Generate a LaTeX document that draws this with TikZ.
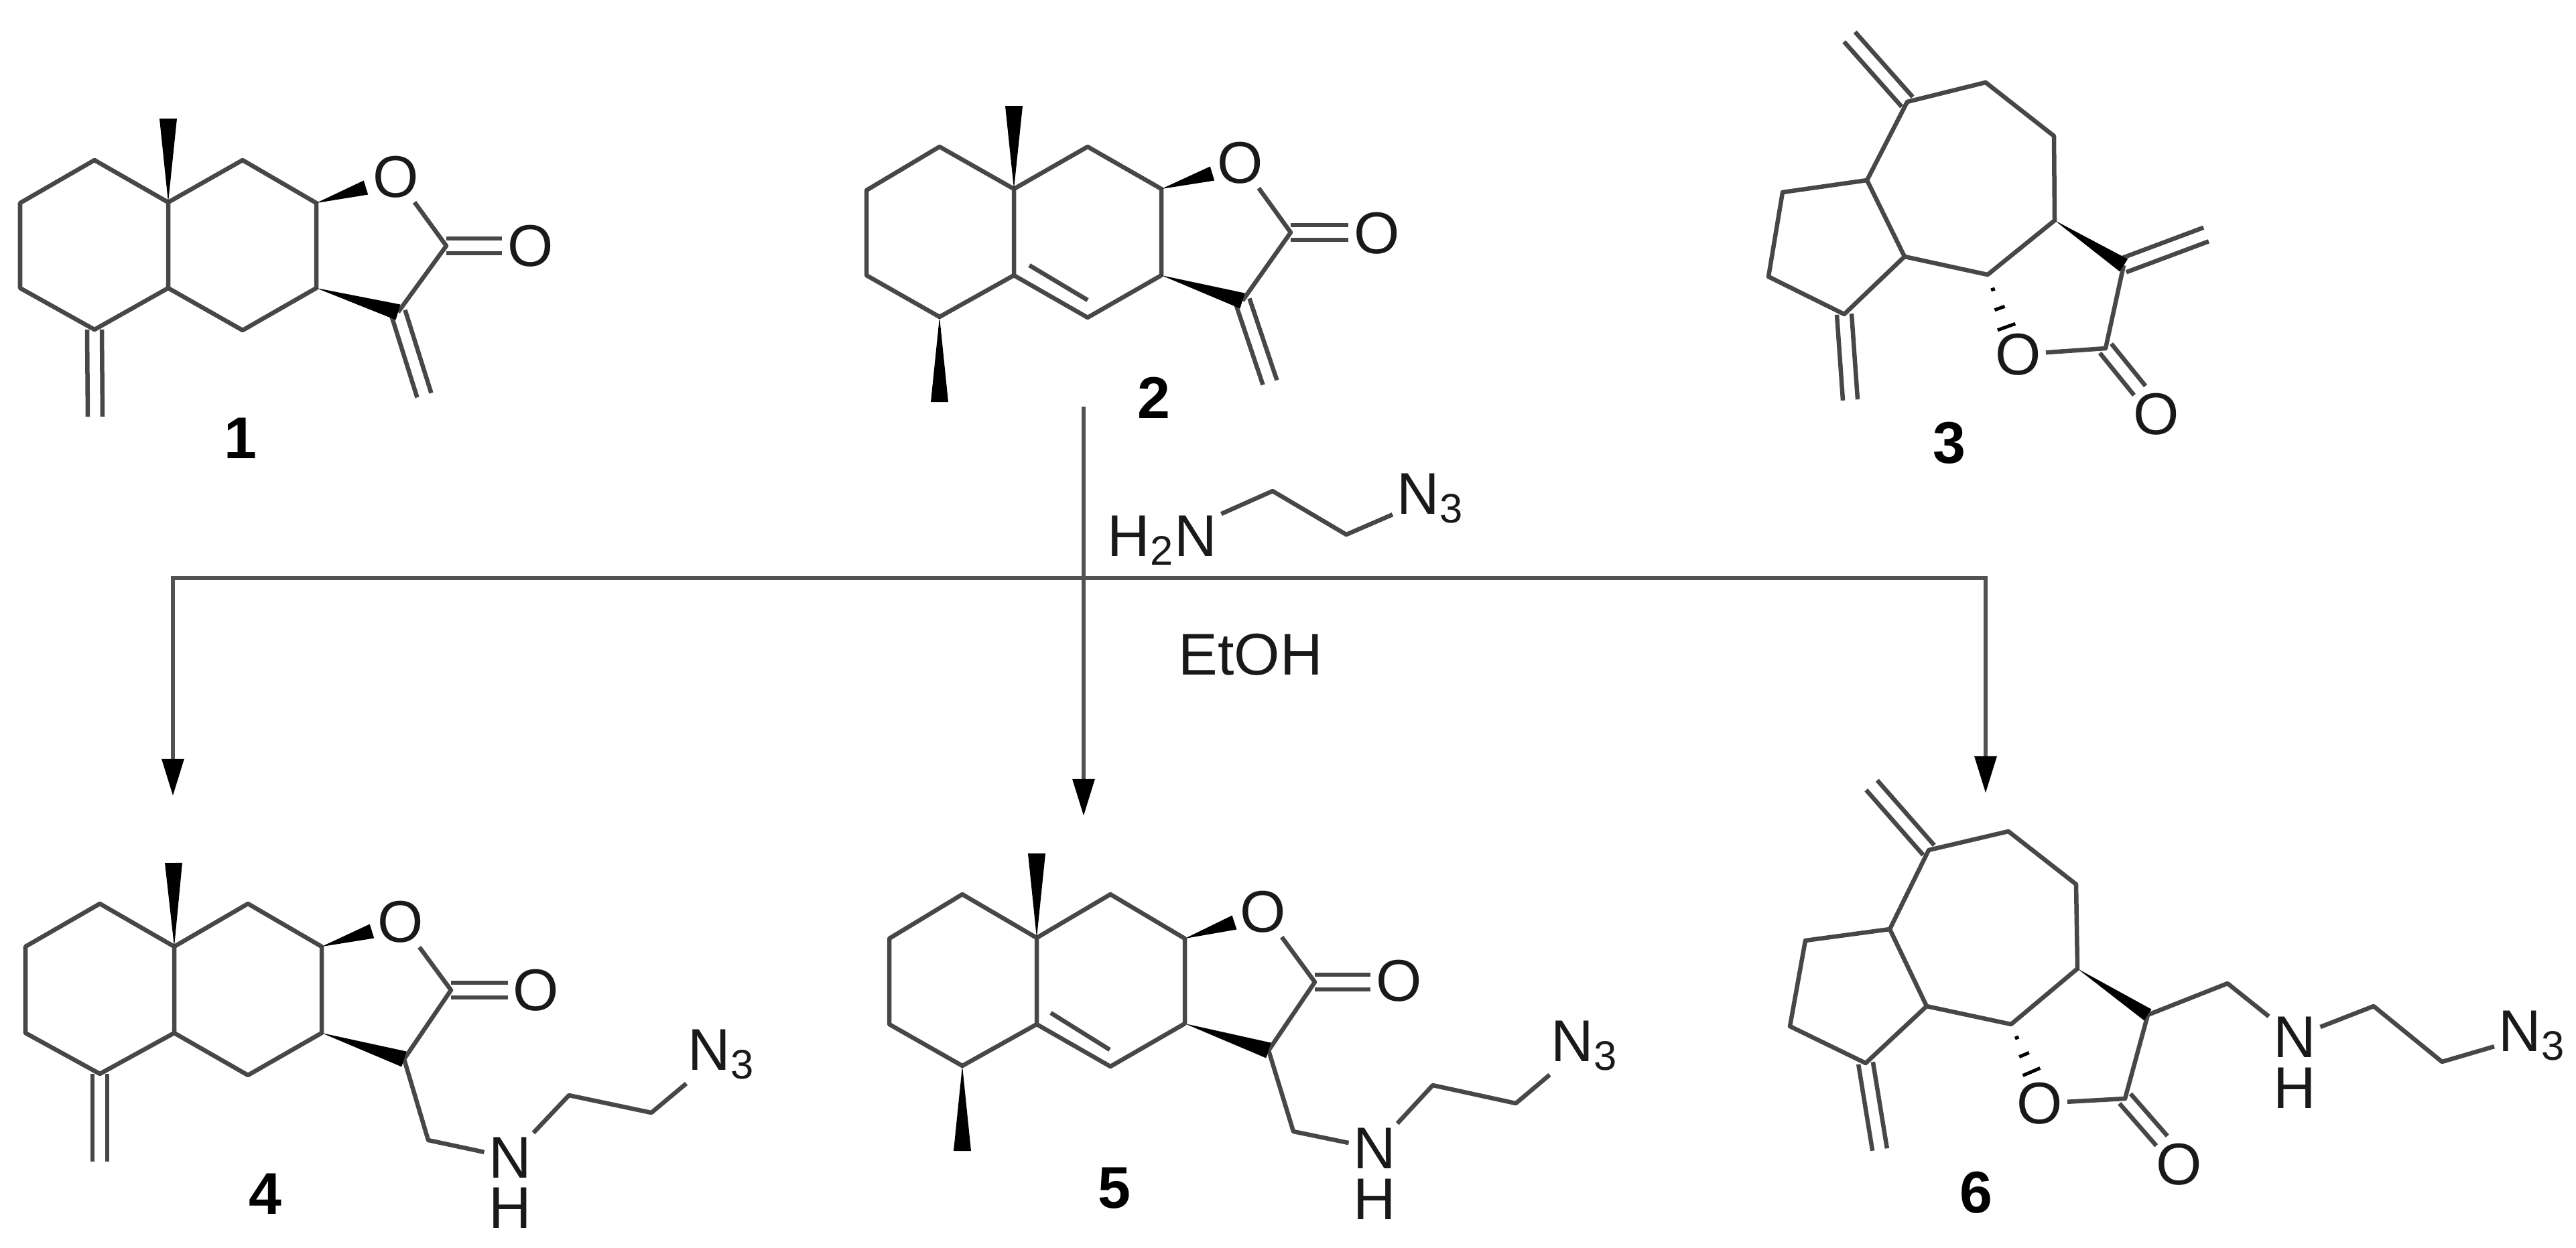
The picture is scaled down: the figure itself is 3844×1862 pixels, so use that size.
\documentclass[tikz,border=0pt]{standalone}
\usepackage{fontspec}
\setmainfont{Liberation Sans}
\usetikzlibrary{calc,arrows.meta}

\tikzset{
    bond/.style={draw=black!72, line width=.065cm, line join=round},
    rxn/.style={draw=black!68, line width=.06cm, line cap=rect},
    rxn_head/.style={-{Triangle[length=.55cm,width=.32cm,black]}},
    atom/.style={font=\fontsize{25}{25}\selectfont, inner sep=.06cm, text=black!90},
    atom_h/.style={atom, inner sep=0pt},
    compound/.style={font=\fontsize{25}{25}\selectfont\bfseries, inner sep=0pt}
}

\newcommand{\doublebond}[2]{
    \draw [bond] ($(#1)!.11cm!90:(#2)$) -- ($(#2)!.11cm!-90:(#1)$);
    \draw [bond] ($(#1)!.11cm!-90:(#2)$) -- ($(#2)!.11cm!90:(#1)$);
}
\newcommand{\wedgebond}[3]{
    \fill [black] (#1) -- ($(#2)!#3!90:(#1)$) -- ($(#2)!#3!-90:(#1)$) -- cycle;
}
\newcommand{\hashbond}[2]{
    \draw [black, line width=.05cm] ($(#1)!.22!(#2)!.03cm!90:(#2)$) -- ($(#1)!.22!(#2)!.03cm!-90:(#2)$);
    \draw [black, line width=.05cm] ($(#1)!.5!(#2)!.08cm!90:(#2)$) -- ($(#1)!.5!(#2)!.08cm!-90:(#2)$);
    \draw [black, line width=.05cm] ($(#1)!.78!(#2)!.14cm!90:(#2)$) -- ($(#1)!.78!(#2)!.14cm!-90:(#2)$);
}

\begin{document}
\begin{tikzpicture}[x=.01cm, y=-.01cm]
        \useasboundingbox (0,0) rectangle (3844,1862);

        % Compound 1
        \coordinate (a1) at (141,239);
        \coordinate (b1) at (30,303);
        \coordinate (c1) at (30,430);
        \coordinate (d1) at (141,492);
        \coordinate (e1) at (251,430);
        \coordinate (f1) at (251,302);
        \coordinate (g1) at (362,239);
        \coordinate (h1) at (472,303);
        \coordinate (i1) at (472,430);
        \coordinate (j1) at (362,493);
        \coordinate (k1) at (666,367);
        \coordinate (l1) at (594,466);
        \coordinate (methyl1) at (251,177);
        \coordinate (wedge_o1) at (546,280);
        \coordinate (exo_a1) at (142,622);
        \coordinate (exo_b1) at (633,590);
        \coordinate (co_end1) at (749,367);
        \node (o_ring1) [atom] at (591,264) {O};
        \node (o_carb1) [atom] at (792,367) {O};
        \node (num1) [compound] at (359,654) {1};
        \draw [bond] (f1) -- (a1) -- (b1) -- (c1) -- (d1) -- (e1) -- cycle;
        \draw [bond] (f1) -- (g1) -- (h1) -- (i1) -- (j1) -- (e1);
        \draw [bond] (o_ring1) -- (k1) -- (l1);
        \doublebond{k1}{co_end1}
        \doublebond{d1}{exo_a1}
        \doublebond{l1}{exo_b1}
        \wedgebond{f1}{methyl1}{.13cm}
        \wedgebond{h1}{wedge_o1}{.11cm}
        \wedgebond{i1}{l1}{.12cm}

        % Compound 2
        \coordinate (a2) at (1402,219);
        \coordinate (b2) at (1293,284);
        \coordinate (c2) at (1293,411);
        \coordinate (d2) at (1402,473);
        \coordinate (e2) at (1513,411);
        \coordinate (f2) at (1513,282);
        \coordinate (g2) at (1623,219);
        \coordinate (h2) at (1733,282);
        \coordinate (i2) at (1733,411);
        \coordinate (j2) at (1623,474);
        \coordinate (k2) at (1926,347);
        \coordinate (l2) at (1854,449);
        \coordinate (methyl2) at (1513,158);
        \coordinate (methyl2b) at (1402,600);
        \coordinate (wedge_o2) at (1809,259);
        \coordinate (exo_b2) at (1895,571);
        \coordinate (co_end2) at (2012,347);
        \coordinate (inner_a2) at (1536,396);
        \coordinate (inner_b2) at (1623,448);
        \node (o_ring2) [atom] at (1851,243) {O};
        \node (o_carb2) [atom] at (2055,348) {O};
        \node (num2) [compound] at (1722,594) {2};
        \draw [bond] (f2) -- (a2) -- (b2) -- (c2) -- (d2) -- (e2) -- cycle;
        \draw [bond] (f2) -- (g2) -- (h2) -- (i2) -- (j2) -- (e2);
        \draw [bond] (inner_a2) -- (inner_b2);
        \draw [bond] (o_ring2) -- (k2) -- (l2);
        \doublebond{k2}{co_end2}
        \doublebond{l2}{exo_b2}
        \wedgebond{f2}{methyl2}{.13cm}
        \wedgebond{d2}{methyl2b}{.13cm}
        \wedgebond{h2}{wedge_o2}{.11cm}
        \wedgebond{i2}{l2}{.12cm}

        % Compound 3
        \coordinate (a3) at (2846,152);
        \coordinate (b3) at (2963,123);
        \coordinate (c3) at (3065,203);
        \coordinate (d3) at (3066,329);
        \coordinate (e3) at (2966,410);
        \coordinate (f3) at (2842,383);
        \coordinate (g3) at (2786,269);
        \coordinate (h3) at (2660,287);
        \coordinate (i3) at (2639,413);
        \coordinate (j3) at (2752,469);
        \coordinate (r3) at (3169,396);
        \coordinate (k3) at (3142,520);
        \coordinate (exo_a3) at (2760,55);
        \coordinate (exo_b3) at (2761,597);
        \coordinate (exo_c3) at (3292,350);
        \coordinate (co_end3) at (3193,583);
        \coordinate (hash_o3) at (3002,510);
        \node (o_ring3) [atom] at (3012,529) {O};
        \node (o_carb3) [atom] at (3218,618) {O};
        \node (num3) [compound] at (2909,661) {3};
        \draw [bond] (a3) -- (b3) -- (c3) -- (d3) -- (e3) -- (f3) -- (g3) -- cycle;
        \draw [bond] (g3) -- (h3) -- (i3) -- (j3) -- (f3);
        \draw [bond] (r3) -- (k3) -- (o_ring3);
        \doublebond{a3}{exo_a3}
        \doublebond{j3}{exo_b3}
        \doublebond{r3}{exo_c3}
        \doublebond{k3}{co_end3}
        \wedgebond{d3}{r3}{.11cm}
        \hashbond{e3}{hash_o3}

        % Compound 4
        \coordinate (a4) at (149,1349);
        \coordinate (b4) at (38,1413);
        \coordinate (c4) at (38,1542);
        \coordinate (d4) at (149,1603);
        \coordinate (e4) at (260,1542);
        \coordinate (f4) at (260,1413);
        \coordinate (g4) at (370,1349);
        \coordinate (h4) at (480,1413);
        \coordinate (i4) at (480,1542);
        \coordinate (j4) at (370,1605);
        \coordinate (k4) at (673,1478);
        \coordinate (l4) at (603,1581);
        \coordinate (methyl4) at (259,1288);
        \coordinate (wedge_o4) at (555,1390);
        \coordinate (exo_a4) at (149,1734);
        \coordinate (co_end4) at (758,1478);
        \coordinate (chain_a4) at (639,1702);
        \coordinate (chain_b4) at (849,1635);
        \coordinate (chain_c4) at (972,1661);
        \node (o_ring4) [atom] at (598,1376) {O};
        \node (o_carb4) [atom] at (800,1478) {O};
        \node (n_amine4) [atom] at (761,1728) {N};
        \node (h_amine4) [atom_h, below of=n_amine4, node distance=.75cm] {H};
        \node (n_azide4) [atom, anchor=base west] at (1020,1597) {N\textsubscript{3}};
        \node (num4) [compound] at (396,1782) {4};
        \draw [bond] (f4) -- (a4) -- (b4) -- (c4) -- (d4) -- (e4) -- cycle;
        \draw [bond] (f4) -- (g4) -- (h4) -- (i4) -- (j4) -- (e4);
        \draw [bond] (o_ring4) -- (k4) -- (l4) -- (chain_a4) -- (n_amine4);
        \draw [bond] (n_amine4) -- (chain_b4) -- (chain_c4) -- (n_azide4);
        \doublebond{k4}{co_end4}
        \doublebond{d4}{exo_a4}
        \wedgebond{f4}{methyl4}{.13cm}
        \wedgebond{h4}{wedge_o4}{.11cm}
        \wedgebond{i4}{l4}{.12cm}

        % Compound 5
        \coordinate (a5) at (1436,1335);
        \coordinate (b5) at (1327,1401);
        \coordinate (c5) at (1327,1529);
        \coordinate (d5) at (1436,1591);
        \coordinate (e5) at (1547,1529);
        \coordinate (f5) at (1547,1400);
        \coordinate (g5) at (1657,1335);
        \coordinate (h5) at (1768,1401);
        \coordinate (i5) at (1768,1528);
        \coordinate (j5) at (1657,1592);
        \coordinate (k5) at (1962,1466);
        \coordinate (l5) at (1893,1568);
        \coordinate (methyl5) at (1547,1274);
        \coordinate (methyl5b) at (1436,1718);
        \coordinate (wedge_o5) at (1842,1377);
        \coordinate (co_end5) at (2045,1466);
        \coordinate (inner_a5) at (1568,1512);
        \coordinate (inner_b5) at (1656,1567);
        \coordinate (chain_a5) at (1930,1689);
        \coordinate (chain_b5) at (2138,1620);
        \coordinate (chain_c5) at (2262,1647);
        \node (o_ring5) [atom] at (1885,1361) {O};
        \node (o_carb5) [atom] at (2088,1464) {O};
        \node (n_amine5) [atom] at (2051,1714) {N};
        \node (h_amine5) [atom_h, below of=n_amine5, node distance=.76cm] {H};
        \node (n_azide5) [atom, anchor=base west] at (2308,1584) {N\textsubscript{3}};
        \node (num5) [compound] at (1663,1774) {5};
        \draw [bond] (f5) -- (a5) -- (b5) -- (c5) -- (d5) -- (e5) -- cycle;
        \draw [bond] (f5) -- (g5) -- (h5) -- (i5) -- (j5) -- (e5);
        \draw [bond] (inner_a5) -- (inner_b5);
        \draw [bond] (o_ring5) -- (k5) -- (l5) -- (chain_a5) -- (n_amine5);
        \draw [bond] (n_amine5) -- (chain_b5) -- (chain_c5) -- (n_azide5);
        \doublebond{k5}{co_end5}
        \wedgebond{f5}{methyl5}{.13cm}
        \wedgebond{d5}{methyl5b}{.13cm}
        \wedgebond{h5}{wedge_o5}{.11cm}
        \wedgebond{i5}{l5}{.12cm}

        % Compound 6
        \coordinate (a6) at (2878,1269);
        \coordinate (b6) at (2997,1241);
        \coordinate (c6) at (3098,1320);
        \coordinate (d6) at (3100,1446);
        \coordinate (e6) at (3001,1529);
        \coordinate (f6) at (2875,1502);
        \coordinate (g6) at (2820,1387);
        \coordinate (h6) at (2694,1404);
        \coordinate (i6) at (2671,1532);
        \coordinate (j6) at (2784,1587);
        \coordinate (r6) at (3205,1515);
        \coordinate (k6) at (3171,1640);
        \coordinate (exo_a6) at (2793,1172);
        \coordinate (exo_b6) at (2805,1716);
        \coordinate (co_end6) at (3226,1703);
        \coordinate (hash_o6) at (3040,1620);
        \coordinate (chain_a6) at (3324,1468);
        \coordinate (chain_b6) at (3542,1502);
        \coordinate (chain_c6) at (3644,1585);
        \node (o_ring6) [atom] at (3044,1647) {O};
        \node (o_carb6) [atom] at (3252,1738) {O};
        \node (n_amine6) [atom] at (3424,1548) {N};
        \node (h_amine6) [atom_h, below of=n_amine6, node distance=.76cm] {H};
        \node (n_azide6) [atom, anchor=base west] at (3722,1569) {N\textsubscript{3}};
        \node (num6) [compound] at (2949,1780) {6};
        \draw [bond] (a6) -- (b6) -- (c6) -- (d6) -- (e6) -- (f6) -- (g6) -- cycle;
        \draw [bond] (g6) -- (h6) -- (i6) -- (j6) -- (f6);
        \draw [bond] (r6) -- (k6) -- (o_ring6);
        \draw [bond] (r6) -- (chain_a6) -- (n_amine6);
        \draw [bond] (n_amine6) -- (chain_b6) -- (chain_c6) -- (n_azide6);
        \doublebond{a6}{exo_a6}
        \doublebond{j6}{exo_b6}
        \doublebond{k6}{co_end6}
        \wedgebond{d6}{r6}{.10cm}
        \hashbond{e6}{hash_o6}

        % Reagent
        \coordinate (chain_a0) at (1899,733);
        \coordinate (chain_b0) at (2009,798);
        \node (h2n) [atom, anchor=base west] at (1646,830) {H\textsubscript{2}N};
        \node (n_azide0) [atom, anchor=base west] at (2078,767) {N\textsubscript{3}};
        \node (etoh) [atom] at (1866,977) {EtOH};
        \draw [bond] (h2n) -- (chain_a0) -- (chain_b0) -- (n_azide0);

        % Arrows
        \coordinate (trunk_top) at (1617,610);
        \coordinate (bus_left) at (258,863);
        \coordinate (bus_right) at (2963,863);
        \coordinate (tip_left) at (258,1188);
        \coordinate (tip_mid) at (1617,1218);
        \coordinate (tip_right) at (2963,1184);
        \draw [rxn] (bus_left) -- (bus_right);
        \draw [rxn, rxn_head] (trunk_top) -- (tip_mid);
        \draw [rxn, rxn_head] (bus_left) -- (tip_left);
        \draw [rxn, rxn_head] (bus_right) -- (tip_right);

\end{tikzpicture}
\end{document}
